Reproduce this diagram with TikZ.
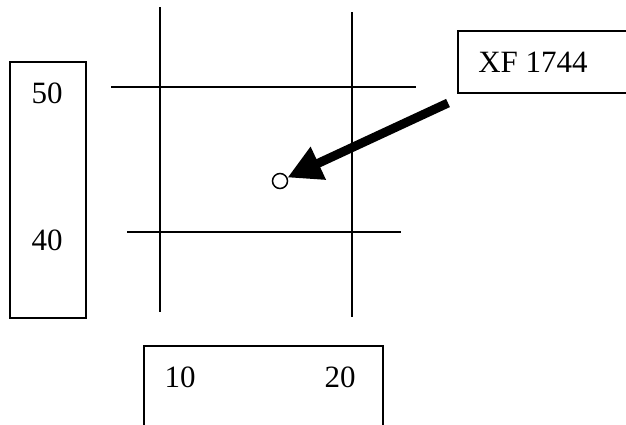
\documentclass[tikz,border=0pt]{standalone}
\usepackage{fontspec}
\setmainfont{Liberation Serif}
\usetikzlibrary{arrows.meta}
\begin{document}
\begin{tikzpicture}[x=1pt,y=-1pt,
  lbl/.style={font=\fontsize{31}{36}\selectfont, inner sep=0pt},
  boxx/.style={draw, line width=1.2pt, inner sep=0pt, rectangle},
  vgrid/.style={line width=2pt},
  hgrid/.style={line width=1.3pt},
  bigarrow/.style={line width=9pt, -{Triangle[length=34pt,width=34pt]}}]
\useasboundingbox (0,0) rectangle (626,424);
\clip (0,0) rectangle (626,424);
% grid lines
\coordinate (v1t) at (160,7);   \coordinate (v1b) at (160,312);
\coordinate (v2t) at (352,12);  \coordinate (v2b) at (352,317);
\coordinate (h1l) at (111,87);  \coordinate (h1r) at (416,87);
\coordinate (h2l) at (127,232); \coordinate (h2r) at (401,232);
\draw[vgrid] (v1t) -- (v1b);
\draw[vgrid] (v2t) -- (v2b);
\draw[hgrid] (h1l) -- (h1r);
\draw[hgrid] (h2l) -- (h2r);
% left box
\node[boxx, minimum width=76pt, minimum height=256pt] (lbox) at (48,190) {};
\node[lbl] (t50) at (47,93) {50};
\node[lbl] (t40) at (47,240) {40};
% bottom box
\node[boxx, minimum width=239pt, minimum height=110pt] (bbox) at (263.5,401) {};
\node[lbl] (t10) at (180,377) {10};
\node[lbl] (t20) at (340,377) {20};
% XF box
\node[boxx, minimum width=172pt, minimum height=62pt] (xbox) at (544,62) {};
\node[lbl] (txf) at (533,62) {XF 1744};
% point and arrow
\node[draw, circle, line width=1.5pt, minimum size=15pt, inner sep=0pt, fill=white] (pt) at (280,181) {};
\coordinate (astart) at (448,103);
\draw[bigarrow] (astart) -- (pt);
\end{tikzpicture}
\end{document}
